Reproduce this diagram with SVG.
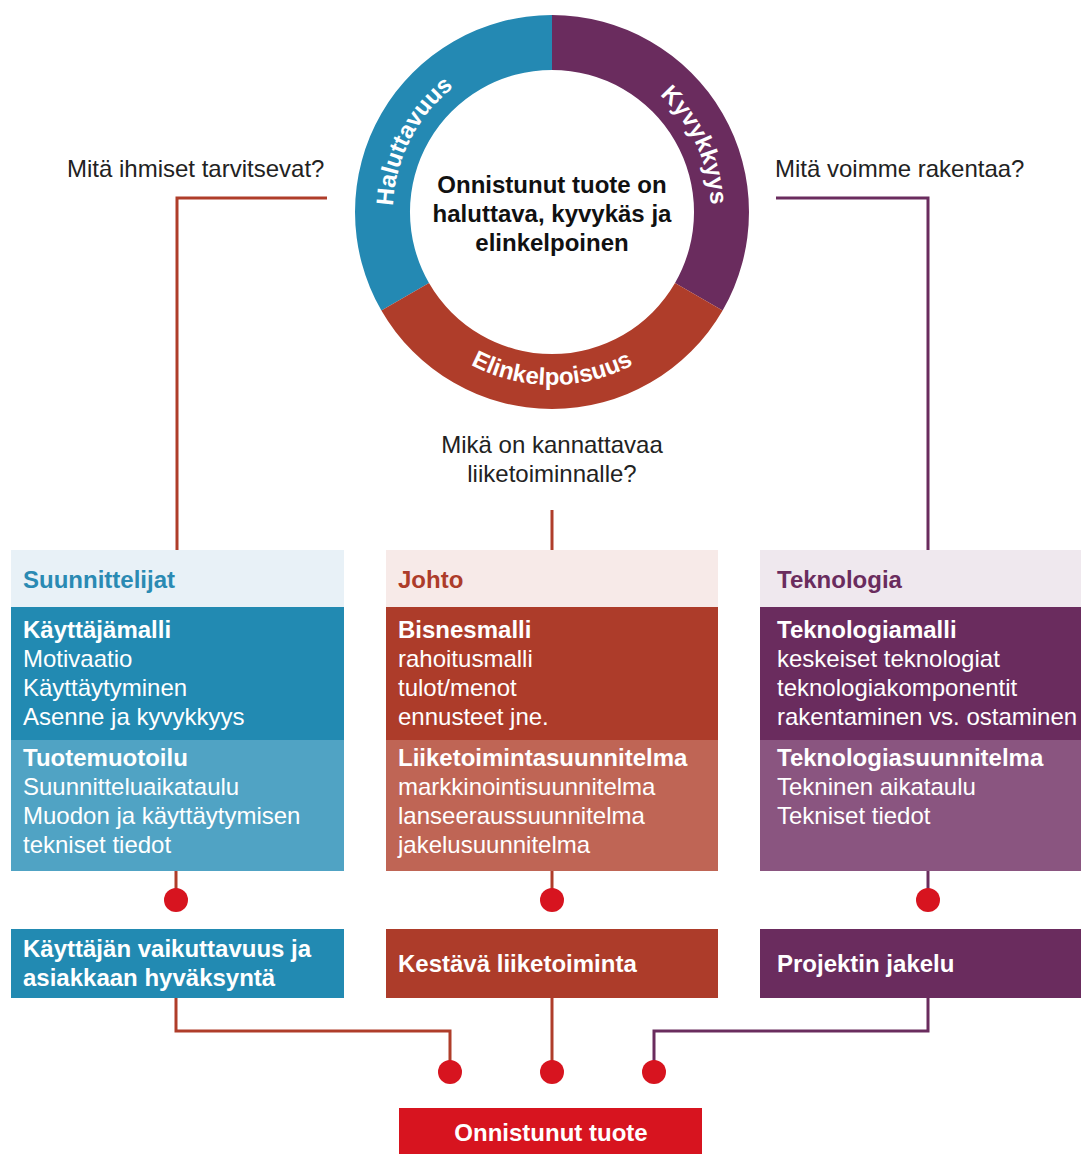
<svg xmlns="http://www.w3.org/2000/svg" width="1081" height="1154" viewBox="0 0 1081 1154">
<style>
text{font-family:"Liberation Sans",Arial,sans-serif}
.q{font-size:24px;fill:#222}
.ring{font-size:24px;font-weight:bold;fill:#fff}
.ctr{font-size:24px;font-weight:bold;fill:#111;text-anchor:middle}
.hd{font-size:24px;font-weight:bold}
.b{font-size:24px;fill:#fff}
.bb{font-size:24px;fill:#fff;font-weight:bold}
.lr{fill:none;stroke:#AF3D2A;stroke-width:3}
.lp{fill:none;stroke:#6A2C5E;stroke-width:3}
.dot{fill:#D7141F}
</style>
<defs>
<path id="arcL" d="M405.6,274.1 A159,159 0 0 1 516.2,57.1"/>
<path id="arcR" d="M593.2,58.4 A159,159 0 0 1 696.1,279.2"/>
<path id="arcB" d="M402.2,298.5 A173,173 0 0 0 701.8,298.5"/>
</defs>
<rect width="1081" height="1154" fill="#fff"/>

<g id="ring">
<path d="M381.4,310.5 A197,197 0 0 1 552,15 L552,70 A142,142 0 0 0 429,283 Z" fill="#2489B3"/>
<path d="M552,15 A197,197 0 0 1 722.6,310.5 L675,283 A142,142 0 0 0 552,70 Z" fill="#6A2C5E"/>
<path d="M722.6,310.5 A197,197 0 0 1 381.4,310.5 L429,283 A142,142 0 0 0 675,283 Z" fill="#AF3D2A"/>
<text class="ring"><textPath href="#arcL" startOffset="50%" text-anchor="middle">Haluttavuus</textPath></text>
<text class="ring"><textPath href="#arcR" startOffset="50%" text-anchor="middle">Kyvykkyys</textPath></text>
<text class="ring"><textPath href="#arcB" startOffset="50%" text-anchor="middle">Elinkelpoisuus</textPath></text>
<text class="ctr" x="552" y="193">Onnistunut tuote on</text>
<text class="ctr" x="552" y="222">haluttava, kyvykäs ja</text>
<text class="ctr" x="552" y="251">elinkelpoinen</text>
</g>

<g id="questions">
<text class="q" x="67" y="177">Mitä ihmiset tarvitsevat?</text>
<text class="q" x="775" y="177">Mitä voimme rakentaa?</text>
<text class="q" x="552" y="453" text-anchor="middle">Mikä on kannattavaa</text>
<text class="q" x="552" y="482" text-anchor="middle">liiketoiminnalle?</text>
</g>

<g id="connectors">
<polyline class="lr" points="327,198 177,198 177,550"/>
<polyline class="lp" points="776,198 928,198 928,550"/>
<line class="lr" x1="552" y1="510" x2="552" y2="550"/>
<line class="lr" x1="176" y1="871" x2="176" y2="900"/>
<line class="lr" x1="552" y1="871" x2="552" y2="900"/>
<line class="lp" x1="928" y1="871" x2="928" y2="900"/>
<polyline class="lr" points="176,998 176,1031 450,1031 450,1072"/>
<line class="lr" x1="552" y1="998" x2="552" y2="1072"/>
<polyline class="lp" points="928,998 928,1031 654,1031 654,1072"/>
<circle class="dot" cx="176" cy="900" r="12"/>
<circle class="dot" cx="552" cy="900" r="12"/>
<circle class="dot" cx="928" cy="900" r="12"/>
<circle class="dot" cx="450" cy="1072" r="12"/>
<circle class="dot" cx="552" cy="1072" r="12"/>
<circle class="dot" cx="654" cy="1072" r="12"/>
</g>

<g id="col-suunnittelijat">
<rect x="11" y="550" width="333" height="57" fill="#E8F1F7"/>
<rect x="11" y="607" width="333" height="133" fill="#228AB2"/>
<rect x="11" y="740" width="333" height="131" fill="#50A3C4"/>
<text class="hd" x="23" y="588" fill="#2A8AB3">Suunnittelijat</text>
<text class="bb" x="23" y="638">Käyttäjämalli</text>
<text class="b" x="23" y="667">Motivaatio</text>
<text class="b" x="23" y="696">Käyttäytyminen</text>
<text class="b" x="23" y="725">Asenne ja kyvykkyys</text>
<text class="bb" x="23" y="766">Tuotemuotoilu</text>
<text class="b" x="23" y="795">Suunnitteluaikataulu</text>
<text class="b" x="23" y="824">Muodon ja käyttäytymisen</text>
<text class="b" x="23" y="853">tekniset tiedot</text>
</g>

<g id="col-johto">
<rect x="386" y="550" width="332" height="57" fill="#F7EAE8"/>
<rect x="386" y="607" width="332" height="133" fill="#AD3C2A"/>
<rect x="386" y="740" width="332" height="131" fill="#BF6555"/>
<text class="hd" x="398" y="588" fill="#AD3C2A">Johto</text>
<text class="bb" x="398" y="638">Bisnesmalli</text>
<text class="b" x="398" y="667">rahoitusmalli</text>
<text class="b" x="398" y="696">tulot/menot</text>
<text class="b" x="398" y="725">ennusteet jne.</text>
<text class="bb" x="398" y="766">Liiketoimintasuunnitelma</text>
<text class="b" x="398" y="795">markkinointisuunnitelma</text>
<text class="b" x="398" y="824">lanseeraussuunnitelma</text>
<text class="b" x="398" y="853">jakelusuunnitelma</text>
</g>

<g id="col-teknologia">
<rect x="760" y="550" width="321" height="57" fill="#EFE8EE"/>
<rect x="760" y="607" width="321" height="133" fill="#6A2C5E"/>
<rect x="760" y="740" width="321" height="131" fill="#8A5580"/>
<text class="hd" x="777" y="588" fill="#6A2C5E">Teknologia</text>
<text class="bb" x="777" y="638">Teknologiamalli</text>
<text class="b" x="777" y="667">keskeiset teknologiat</text>
<text class="b" x="777" y="696">teknologiakomponentit</text>
<text class="b" x="777" y="725">rakentaminen vs. ostaminen</text>
<text class="bb" x="777" y="766">Teknologiasuunnitelma</text>
<text class="b" x="777" y="795">Tekninen aikataulu</text>
<text class="b" x="777" y="824">Tekniset tiedot</text>
</g>

<g id="out-kayttaja">
<rect x="11" y="929" width="333" height="69" fill="#228AB2"/>
<text class="bb" x="23" y="957">Käyttäjän vaikuttavuus ja</text>
<text class="bb" x="23" y="986">asiakkaan hyväksyntä</text>
</g>
<g id="out-kestava">
<rect x="386" y="929" width="332" height="69" fill="#AD3C2A"/>
<text class="bb" x="398" y="972">Kestävä liiketoiminta</text>
</g>
<g id="out-projekti">
<rect x="760" y="929" width="321" height="69" fill="#6A2C5E"/>
<text class="bb" x="777" y="972">Projektin jakelu</text>
</g>
<g id="final">
<rect x="399" y="1108" width="303" height="46" fill="#D7141F"/>
<text class="bb" x="551" y="1141" text-anchor="middle">Onnistunut tuote</text>
</g>
</svg>
